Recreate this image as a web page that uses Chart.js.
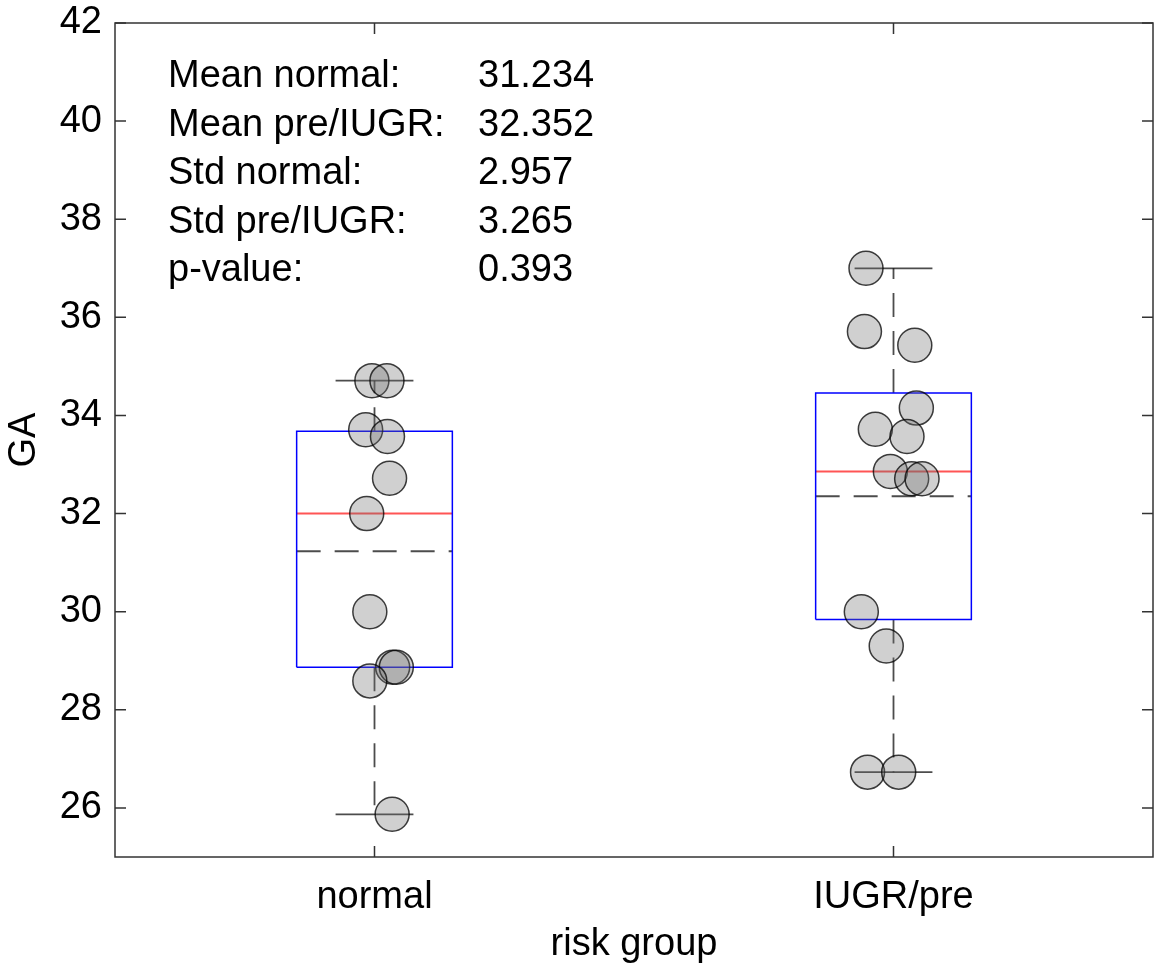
<!DOCTYPE html>
<html>
<head>
<meta charset="utf-8">
<script src="https://cdn.jsdelivr.net/npm/chart.js@4.4.1/dist/chart.umd.min.js"></script>
<style>
  html, body { margin: 0; padding: 0; background: #fff; overflow: hidden; }
  #wrap { width: 1155px; height: 969px; position: relative; }
  #chart { display: block; }
</style>
</head>
<body>
<div id="wrap"><canvas id="chart"></canvas></div>
<script>
// groups on the x axis
const categories = ['normal', 'IUGR/pre'];
const groupX = [1, 2];

// GA values per subject, with the horizontal jitter
const normalGA = [34.71, 34.71, 33.71, 33.57, 32.72, 32.0, 30.0, 28.87, 28.87, 28.59, 25.87];
const normalJitter = [-0.005, 0.024, -0.017, 0.025, 0.029, -0.015, -0.009, 0.035, 0.042, -0.009, 0.034];
const iugrGA = [37.0, 35.71, 35.43, 34.15, 33.72, 33.57, 32.86, 32.71, 32.71, 30.0, 29.30, 26.73, 26.73];
const iugrJitter = [-0.053, -0.056, 0.041, 0.044, -0.035, 0.026, -0.006, 0.035, 0.055, -0.062, -0.014, -0.050, 0.010];

// box plot stats per group
const q1 = [28.87, 29.84];
const q3 = [33.68, 34.46];
const medians = [32.0, 32.86];
const means = [31.234, 32.352];
const whiskerLow = [25.87, 26.73];
const whiskerHigh = [34.71, 37.0];

const yTicks = [26, 28, 30, 32, 34, 36, 38, 40, 42];

const statLabels = ['Mean normal:', 'Mean pre/IUGR:', 'Std normal:', 'Std pre/IUGR:', 'p-value:'];
const statValues = ['31.234', '32.352', '2.957', '3.265', '0.393'];

const FONT = '"Liberation Sans", Arial, Helvetica, sans-serif';
const BOX_HALF = 0.15;
const CAP_HALF = 0.075;
const DASH = [24, 14];

function seg(x1, y1, x2, y2, color, width, dash) {
    return {
        type: 'line',
        data: [{ x: x1, y: y1 }, { x: x2, y: y2 }],
        borderColor: color,
        borderWidth: width,
        borderDash: dash || [],
        pointRadius: 0,
        fill: false,
        tension: 0,
        order: 1
    };
}

const datasets = [];
groupX.forEach((c, i) => {
    datasets.push({
        type: 'line',
        data: [
            { x: c - BOX_HALF, y: q1[i] }, { x: c + BOX_HALF, y: q1[i] },
            { x: c + BOX_HALF, y: q3[i] }, { x: c - BOX_HALF, y: q3[i] },
            { x: c - BOX_HALF, y: q1[i] }
        ],
        borderColor: '#0000ff',
        borderWidth: 1.5,
        pointRadius: 0,
        fill: false,
        tension: 0,
        order: 1
    });
    datasets.push(seg(c - BOX_HALF, medians[i], c + BOX_HALF, medians[i], 'rgb(255,85,85)', 2));
    datasets.push(seg(c - BOX_HALF, means[i], c + BOX_HALF, means[i], 'rgba(0,0,0,0.7)', 2, DASH));
    datasets.push(seg(c, q3[i], c, whiskerHigh[i], 'rgba(0,0,0,0.7)', 1.8, DASH));
    datasets.push(seg(c, q1[i], c, whiskerLow[i], 'rgba(0,0,0,0.7)', 1.8, DASH));
    datasets.push(seg(c - CAP_HALF, whiskerHigh[i], c + CAP_HALF, whiskerHigh[i], 'rgba(0,0,0,0.7)', 1.8));
    datasets.push(seg(c - CAP_HALF, whiskerLow[i], c + CAP_HALF, whiskerLow[i], 'rgba(0,0,0,0.7)', 1.8));
});

const pointStyle = {
    type: 'scatter',
    backgroundColor: 'rgba(110,110,110,0.32)',
    borderColor: 'rgba(0,0,0,0.75)',
    borderWidth: 1.5,
    pointRadius: 17,
    order: 0
};
datasets.push(Object.assign({}, pointStyle, {
    data: normalGA.map((v, i) => ({ x: groupX[0] + normalJitter[i], y: v }))
}));
datasets.push(Object.assign({}, pointStyle, {
    data: iugrGA.map((v, i) => ({ x: groupX[1] + iugrJitter[i], y: v }))
}));

// frame, inward ticks and the stats text
const framePlugin = {
    id: 'frame',
    afterDraw(chart) {
        const { ctx, chartArea: a, scales } = chart;
        ctx.save();
        ctx.strokeStyle = '#333';
        ctx.lineWidth = 1.5;
        ctx.strokeRect(a.left, a.top, a.right - a.left, a.bottom - a.top);
        ctx.beginPath();
        yTicks.forEach(v => {
            const y = scales.y.getPixelForValue(v);
            ctx.moveTo(a.left, y); ctx.lineTo(a.left + 11, y);
            ctx.moveTo(a.right, y); ctx.lineTo(a.right - 11, y);
        });
        groupX.forEach(v => {
            const x = scales.x.getPixelForValue(v);
            ctx.moveTo(x, a.bottom); ctx.lineTo(x, a.bottom - 11);
            ctx.moveTo(x, a.top); ctx.lineTo(x, a.top + 11);
        });
        ctx.stroke();

        ctx.fillStyle = '#000';
        ctx.font = '38px ' + FONT;
        ctx.textBaseline = 'alphabetic';
        ctx.textAlign = 'left';
        statLabels.forEach((t, i) => {
            const y = a.top + 64 + i * 48.5;
            ctx.fillText(t, a.left + 53, y);
            ctx.fillText(statValues[i], a.left + 363, y);
        });
        ctx.restore();
    }
};

new Chart(document.getElementById('chart'), {
    type: 'scatter',
    data: { datasets },
    plugins: [framePlugin],
    options: {
        responsive: true,
        maintainAspectRatio: false,
        animation: false,
        layout: { autoPadding: false, padding: { top: 23, right: 2, left: 0, bottom: 0 } },
        plugins: {
            legend: { display: false },
            tooltip: { enabled: false }
        },
        scales: {
            x: {
                type: 'linear',
                min: 0.5,
                max: 2.5,
                grid: { display: false, drawTicks: false },
                border: { display: false },
                afterBuildTicks: (axis) => { axis.ticks = groupX.map(v => ({ value: v })); },
                afterFit: (axis) => {
                    axis.height = 112;
                    axis.paddingLeft = 0;
                    axis.paddingRight = 0;
                },
                ticks: {
                    autoSkip: false,
                    maxRotation: 0,
                    padding: 18,
                    color: '#000',
                    font: { family: FONT, size: 38 },
                    callback: (v) => categories[groupX.indexOf(v)]
                },
                title: {
                    display: true,
                    text: 'risk group',
                    color: '#000',
                    font: { family: FONT, size: 38 },
                    padding: { top: 0, bottom: 2 }
                }
            },
            y: {
                min: 25,
                max: 42,
                grid: { display: false, drawTicks: false },
                border: { display: false },
                afterBuildTicks: (axis) => { axis.ticks = yTicks.map(v => ({ value: v })); },
                afterFit: (axis) => {
                    axis.width = 115;
                    axis.paddingTop = 0;
                    axis.paddingBottom = 0;
                },
                ticks: {
                    padding: 13,
                    color: '#000',
                    font: { family: FONT, size: 38 }
                },
                title: {
                    display: true,
                    text: 'GA',
                    color: '#000',
                    font: { family: FONT, size: 38 },
                    padding: { top: 2, bottom: 0 }
                }
            }
        }
    }
});
</script>
</body>
</html>
